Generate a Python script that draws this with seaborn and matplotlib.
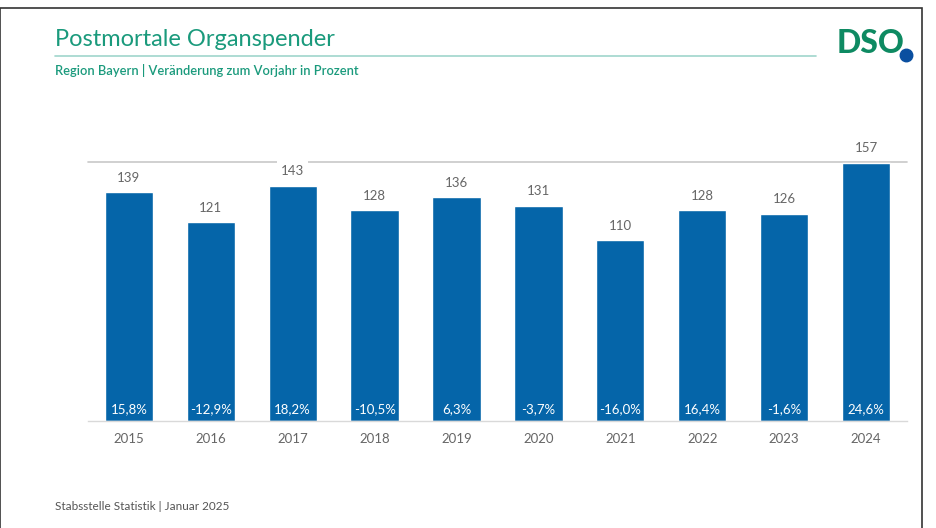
import numpy as np
import pandas as pd
import matplotlib as mpl
from matplotlib import pyplot as plt
from matplotlib.patches import Rectangle
import seaborn as sns

# Data
years = ['2015', '2016', '2017', '2018', '2019', '2020', '2021', '2022', '2023', '2024']
donors = [139, 121, 143, 128, 136, 131, 110, 128, 126, 157]
change = ['15,8%', '-12,9%', '18,2%', '-10,5%', '6,3%', '-3,7%', '-16,0%', '16,4%', '-1,6%', '24,6%']

df = pd.DataFrame({'Jahr': years, 'Spender': donors})

sns.set_theme(style='white')
plt.rcParams['font.family'] = ['Lato', 'DejaVu Sans']

teal = '#1a9a7c'
bar_blue = '#0565a9'
grey_txt = '#666666'

fig = plt.figure(figsize=(9.36, 5.28), dpi=100)
ax = fig.add_axes([0.094, 0.2027, 0.875, 0.4903])

sns.barplot(data=df, x='Jahr', y='Spender', color=bar_blue, width=0.59,
            saturation=1, ax=ax)

ax.set_ylim(0, 157.4)
ax.set_xlim(-0.5, len(years) - 0.5)
ax.set_xlabel('')
ax.set_ylabel('')
ax.set_yticks([])
for side in ['left', 'right', 'top']:
    ax.spines[side].set_visible(False)
ax.spines['bottom'].set_color('#d9d9d9')
ax.spines['bottom'].set_linewidth(1)
ax.axhline(157.4, color='#c8c8c8', lw=1.2, zorder=0, clip_on=False)
ax.tick_params(axis='x', length=0, pad=9, labelsize=9.5, labelcolor=grey_txt)

# value labels above bars (white box breaks the gridline)
for i, v in enumerate(donors):
    ax.annotate(str(v), (i, v), xytext=(0, 6), textcoords='offset points',
                ha='center', va='bottom', fontsize=9.5, color=grey_txt,
                bbox=dict(boxstyle='square,pad=0.3', fc='white', ec='none'),
                zorder=5)

# percent change inside bars at the bottom
for i, c in enumerate(change):
    ax.annotate(c, (i, 0), xytext=(0, 4), textcoords='offset points',
                ha='center', va='bottom', fontsize=9.5, color='white', zorder=5)

# header
fig.text(0.059, 0.925, 'Postmortale Organspender', fontsize=17, color=teal,
         ha='left', va='center')
fig.add_artist(plt.Line2D([0.059, 0.872], [0.894, 0.894], color='#9fd6cc',
                          lw=1.2, transform=fig.transFigure))
fig.text(0.059, 0.866, 'Region Bayern | Veränderung zum Vorjahr in Prozent',
         fontsize=9.3, color=teal, fontweight='semibold', ha='left', va='center')

# logo
fig.text(0.894, 0.917, 'DSO', fontsize=23, fontweight='black', color='#0e8a62',
         ha='left', va='center')
fig.add_artist(plt.Line2D([0.968], [0.896], marker='o', ms=9, color='#0a4fa0',
                          transform=fig.transFigure))

# footer
fig.text(0.059, 0.040, 'Stabsstelle Statistik | Januar 2025', fontsize=8.5,
         color='#555555', ha='left', va='center')

# frame
fig.add_artist(Rectangle((0.0, -0.01), 0.985, 0.995, transform=fig.transFigure,
                         fill=False, ec='#333333', lw=1.2))

fig.savefig('out.png', dpi=100)
